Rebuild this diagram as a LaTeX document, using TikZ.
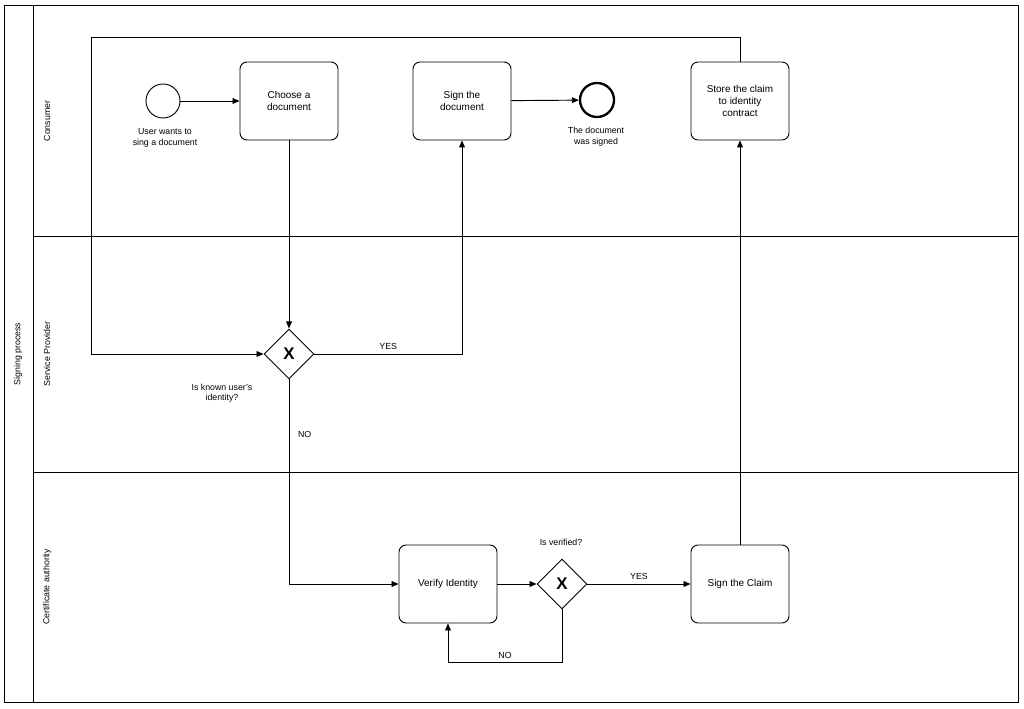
\documentclass[tikz,border=0pt]{standalone}
\usepackage{fontspec}
\setmainfont{Liberation Sans}
\usetikzlibrary{shapes.geometric,arrows.meta}
\tikzset{
	task/.style={draw,thick,rounded corners=6pt,minimum width=98\px,minimum height=78\px,align=center,font=\fontsize{8.5}{10}\selectfont},
	gate/.style={draw,thick,diamond,minimum width=50\px,minimum height=50\px,inner sep=0pt,font=\Large\bfseries},
	lbl/.style={align=center,font=\fontsize{7.5}{9}\selectfont},
	flow/.style={thick,-{Triangle[length=6pt,width=5pt]}}
}
\newlength{\px}\setlength{\px}{0.03cm}
\begin{document}
\begin{tikzpicture}[x=0.03cm,y=-0.03cm]
	\useasboundingbox (0,0) rectangle (1024,709);
	%pool and lanes
	\draw[thick] (4,5) rectangle (1018,702);
	\draw[thick] (33,5)--(33,702);
	\draw[thick] (33,236)--(1018,236);
	\draw[thick] (33,472)--(1018,472);
	\node[lbl,rotate=90] (pool) at (18,354) {Signing process};
	\node[lbl,rotate=90] (lcons) at (47,121) {Consumer};
	\node[lbl,rotate=90] (lsp) at (47,354) {Service Provider};
	\node[lbl,rotate=90] (lca) at (47,587) {Certificate authority};
	
	%events and tasks
	\node[draw,thick,circle,minimum size=34\px,inner sep=0pt] (start) at (163,101) {};
	\node[lbl] (tstart) at (165,138) {User wants to\\sing a document};
	\node[task] (choose) at (289,101) {Choose a\\document};
	\node[task] (sign) at (462,101) {Sign the\\document};
	\node[draw,line width=2pt,circle,minimum size=34\px,inner sep=0pt] (end) at (597,100) {};
	\node[lbl] (tend) at (596,137) {The document\\was signed};
	\node[task] (store) at (740,101) {Store the claim\\to identity\\contract};
	\node[gate] (gw1) at (289,354) {X};
	\node[lbl] (tgw1) at (222,393) {Is known user's\\identity?};
	\node[task] (verify) at (448,584) {Verify Identity};
	\node[gate] (gw2) at (562,584) {X};
	\node[lbl] (tgw2) at (561,542) {Is verified?};
	\node[task] (claim) at (740,584) {Sign the Claim};
	
	%flows
	\draw[flow] (start)--(choose);
	\draw[flow] (choose)--(gw1);
	\draw[flow] (gw1.east)-|(sign) node[lbl,pos=0.25,above] {YES};
	\draw[flow] (sign)--(end);
	\draw[flow] (gw1.south)|-(verify) node[lbl,pos=0.135,right=4pt] {NO};
	\draw[flow] (verify)--(gw2);
	\draw[flow] (gw2)--(claim) node[lbl,midway,above] {YES};
	\draw[flow] (gw2.south)--++(0,53)-|(verify.south) node[lbl,pos=0.25,above] {NO};
	\draw[flow] (claim)--(store);
	\draw[flow] (store.north)--++(0,-24)-|(91,354)--(gw1.west);
\end{tikzpicture}
\end{document}
